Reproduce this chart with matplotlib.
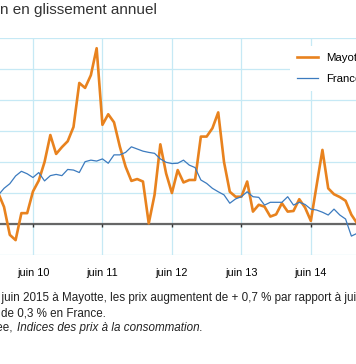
import matplotlib
matplotlib.use('Agg')
import matplotlib.pyplot as plt
import numpy as np
import pandas as pd

# Glissement annuel des prix (%), de décembre 2009 à juin 2015
mois = pd.date_range('2009-12-01', '2015-06-01', freq='MS')
mayotte = [1.0, 0.55, -0.35, -0.52, 0.35, 0.35, 1.05, 1.4, 2.0, 2.87, 2.26, 2.48,
           2.67, 3.13, 4.55, 4.39, 4.8, 5.67, 3.2, 3.54, 3.28, 2.5, 1.85, 1.39,
           1.45, 1.37, 0.02, 0.94, 2.57, 1.63, 1.0, 1.74, 1.34, 1.42, 1.42, 2.82,
           2.82, 3.09, 3.6, 2.0, 1.04, 0.88, 0.88, 1.37, 0.4, 0.62, 0.56, 0.24,
           0.31, 0.67, 0.4, 0.42, 0.8, 0.53, 0.1, 1.25, 2.39, 1.15, 0.96, 0.87,
           0.75, 0.3, 0.02, -0.1, 0.2, 0.4, 0.7]
france = [0.93, 1.15, 1.3, 1.55, 1.7, 1.62, 1.5, 1.66, 1.39, 1.56, 1.6, 1.56,
          1.76, 1.74, 1.66, 2.01, 2.06, 2.03, 2.1, 1.96, 2.23, 2.23, 2.31, 2.49,
          2.42, 2.35, 2.31, 2.28, 2.1, 1.99, 1.95, 1.96, 2.06, 1.9, 1.82, 1.42,
          1.31, 1.15, 1.04, 0.94, 0.67, 0.81, 0.88, 1.04, 0.88, 0.86, 0.61, 0.7,
          0.7, 0.7, 0.88, 0.61, 0.7, 0.63, 0.48, 0.45, 0.38, 0.29, 0.48, 0.29,
          0.16, -0.39, -0.3, -0.1, 0.1, 0.3, 0.3]
titre = "Inflation en glissement annuel"
note1 = "En juin 2015 à Mayotte, les prix augmentent de + 0,7 % par rapport à juin 2014"
note2 = "et de 0,3 % en France."

plt.rcParams['font.family'] = 'Liberation Sans'

W, H = 356, 364
fig = plt.figure(figsize=(W / 100, H / 100), dpi=100)
# la vue est recadrée : l'axe déborde à gauche et à droite de l'image
ax = fig.add_axes([-20 / W, 1 - 255 / H, 420 / W, 217 / H])

x = np.arange(len(mois))
juin = [i for i, d in enumerate(mois) if d.month == 6 and d.year < 2015]

ax.plot(x, mayotte, color='#E8821E', lw=1.9, label='Mayotte', zorder=3)
ax.plot(x, france, color='#3C7BBF', lw=0.9, label='France', zorder=3)

ax.set_xlim(-3.15, 69.4)
ax.set_ylim(-1, 6)
ax.set_yticks(range(-1, 7))
ax.set_xticks(juin)
ax.set_xticklabels(['juin %s' % mois[i].strftime('%y') for i in juin], fontsize=7.8)
ax.tick_params(axis='x', length=0, pad=9)
ax.tick_params(axis='y', length=0, labelleft=False)
ax.grid(True, color='#C6E9F5', lw=0.9, zorder=0)
for s in ax.spines.values():
    s.set_visible(False)
ax.axhline(0, color='#666666', lw=1.6, zorder=2)
ax.vlines(juin, -0.1, 0, color='#333333', lw=1.0, zorder=2)

leg = ax.legend(loc='upper left', bbox_to_anchor=(284.5 / W, 1 - 40 / H),
                bbox_transform=fig.transFigure, fontsize=8.2, frameon=True,
                facecolor='white', edgecolor='none', framealpha=1,
                handlelength=1.84, handletextpad=0.7, labelspacing=1.05,
                borderpad=0.6)
leg.set_zorder(5)

rend = fig.canvas.get_renderer()


def texte_coupe(s, visible, x_px, y_px, **kw):
    # place s pour que la partie visible commence à x_px
    t = fig.text(0, 0, s, **kw)
    v = fig.text(0, 0, visible + s.split(visible, 1)[1], **kw)
    dw = t.get_window_extent(rend).width - v.get_window_extent(rend).width
    v.remove()
    t.set_position(((x_px - dw) / W, 1 - y_px / H))
    t.set_va('center')
    return t


texte_coupe(titre, 'n en glissement', 0, 10, fontsize=11, color='#333333')
texte_coupe(note1, 'juin 2015', 1, 298, fontsize=8.4, color='#222222')
texte_coupe(note2, 'de 0,3', 1, 313, fontsize=8.4, color='#222222')
fig.text(12 / W, 1 - 328 / H, 'Source : Insee,', ha='right', va='center',
         fontsize=8.4, color='#222222')
fig.text(17 / W, 1 - 328 / H, 'Indices des prix à la consommation.', va='center',
         fontsize=8.4, style='italic', color='#222222')

fig.savefig('out.png', dpi=100)
